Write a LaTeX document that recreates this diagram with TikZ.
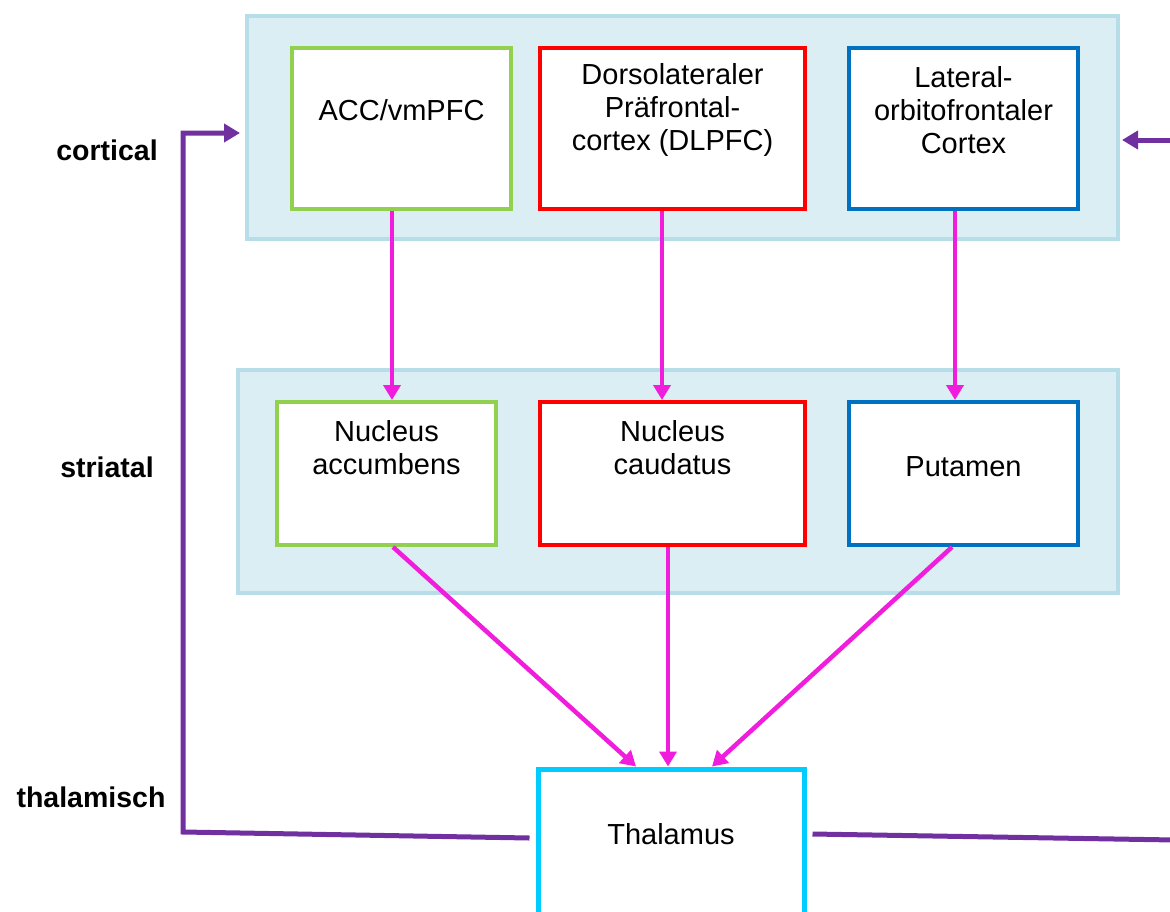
\documentclass[tikz,border=0pt]{standalone}
\usepackage{fontspec}
\setmainfont{Liberation Sans}
\usetikzlibrary{arrows.meta}
\definecolor{panelfill}{HTML}{DAEEF3}
\definecolor{paneledge}{HTML}{B7DDE8}
\definecolor{accgreen}{HTML}{92D050}
\definecolor{dlred}{HTML}{FF0000}
\definecolor{lofblue}{HTML}{0070C0}
\definecolor{thalcyan}{HTML}{00CCFF}
\definecolor{loopmag}{HTML}{F01EDC}
\definecolor{backpurple}{HTML}{7030A0}

\begin{document}
\begin{tikzpicture}[x=1pt,y=-1pt,
  panel/.style={rectangle,draw=paneledge,fill=panelfill,line width=4pt,inner sep=0pt},
  box/.style={rectangle,draw=#1,fill=white,line width=4pt,inner sep=0pt},
  txt/.style={font=\fontsize{29}{33}\selectfont,align=center,inner sep=0pt},
  lvl/.style={font=\fontsize{28.5}{33}\selectfont\bfseries,inner sep=0pt},
  pk/.style={-{Triangle[length=15pt,width=17pt]},draw=loopmag,line width=4.5pt},
  pu/.style={-{Triangle[length=16pt,width=18pt]},draw=backpurple,line width=5pt},
  puline/.style={draw=backpurple,line width=5pt}]

\useasboundingbox (0,0) rectangle (1170,911);
\clip (0,0) rectangle (1170,911);

% panels
\node[panel,minimum width=871pt,minimum height=223pt] (cort) at (682.5,127.5) {};
\node[panel,minimum width=880pt,minimum height=223pt] (stri) at (678,481.5) {};

% cortical level
\node[box=accgreen,minimum width=219pt,minimum height=161pt] (acc) at (401.5,128.5) {};
\node[box=dlred,minimum width=265pt,minimum height=161pt] (dlpfc) at (672.5,128.5) {};
\node[box=lofblue,minimum width=229pt,minimum height=161pt] (lofc) at (963.5,128.5) {};
\node[txt] at (401.5,110) {ACC/vmPFC};
\node[txt] at (672.5,110) {Dorsolateraler\\Präfrontal-\\cortex (DLPFC)};
\node[txt] at (963.5,110) {Lateral-\\orbitofrontaler\\Cortex};

% striatal level
\node[box=accgreen,minimum width=219pt,minimum height=143pt] (nacc) at (386.5,473.5) {};
\node[box=dlred,minimum width=265pt,minimum height=143pt] (caud) at (672.5,473.5) {};
\node[box=lofblue,minimum width=229pt,minimum height=143pt] (put) at (963.5,473.5) {};
\node[txt] at (386.5,448) {Nucleus\\accumbens};
\node[txt] at (672.5,448) {Nucleus\\caudatus};
\node[txt] at (963.5,467) {Putamen};

% thalamic level
\node[box=thalcyan,line width=5pt,minimum width=266pt,minimum height=191pt] (thal) at (671,864.5) {};
\node[txt] at (671,834) {Thalamus};

% level labels
\node[lvl] at (107,150) {cortical};
\node[lvl] at (107,467) {striatal};
\node[lvl] at (91,797) {thalamisch};

% cortex -> striatum
\draw[pk] (acc.south -| 392,0) -- (nacc.north -| 392,0);
\draw[pk] (dlpfc.south -| 662,0) -- (caud.north -| 662,0);
\draw[pk] (lofc.south -| 955,0) -- (put.north -| 955,0);

% striatum -> thalamus
\draw[pk] (nacc.south -| 393,0) -- (thal.north -| 636,0);
\draw[pk] (caud.south -| 668,0) -- (thal.north -| 668,0);
\draw[pk] (put.south -| 952,0) -- (thal.north -| 712,0);

% thalamus -> cortex
\draw[pu] ([xshift=-6pt]thal.west |- 0,838) -- (183,832) |- ([xshift=-5pt]cort.west |- 0,133);
\draw[puline] ([xshift=6pt]thal.east |- 0,834) -- (1175,840);
\draw[pu] (1175,140) -- ([xshift=2pt]cort.east |- 0,140);
\end{tikzpicture}
\end{document}
